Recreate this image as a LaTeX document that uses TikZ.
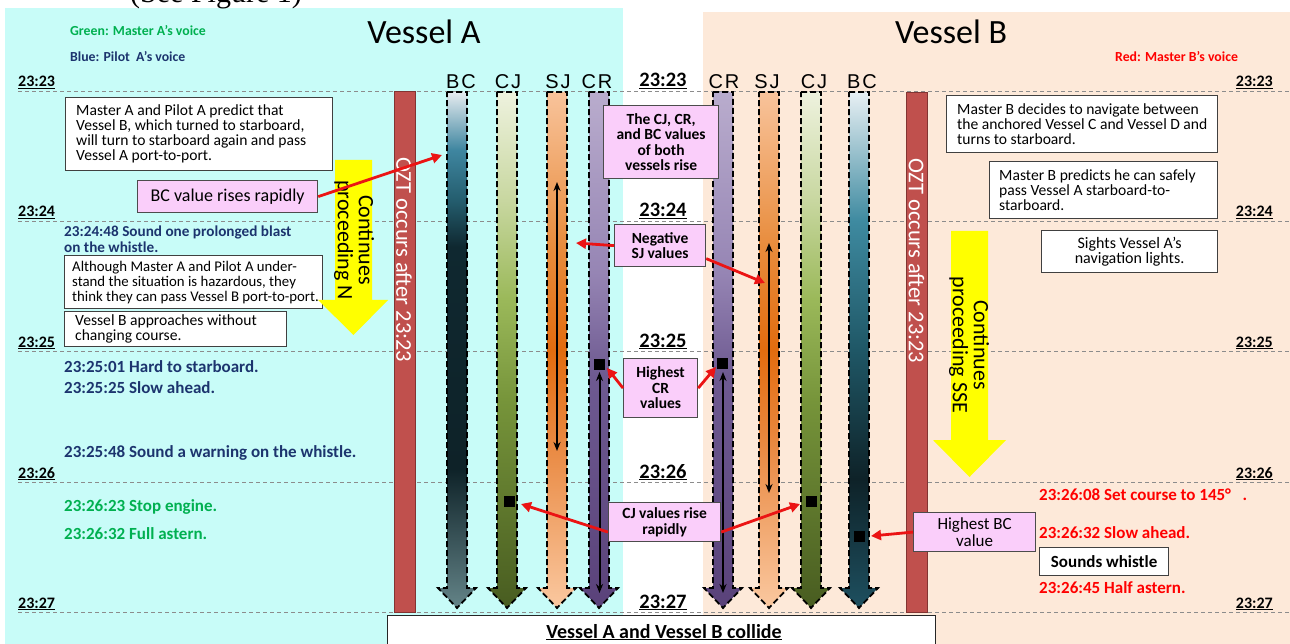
\documentclass[tikz,border=0pt]{standalone}
\usepackage{fontspec}
\setmainfont{Carlito}
\newfontfamily\arialf[LetterSpace=9]{Liberation Sans}
\newfontfamily\timesf{Liberation Serif}
\usetikzlibrary{arrows.meta,calc}

\definecolor{cyanbg}{RGB}{200,252,248}
\definecolor{peachbg}{RGB}{253,233,217}
\definecolor{pinkbox}{RGB}{250,206,250}
\definecolor{ozt}{RGB}{192,80,77}
\definecolor{oztb}{RGB}{130,52,50}
\definecolor{navyt}{RGB}{28,52,110}
\definecolor{greent}{RGB}{0,176,80}
\definecolor{redt}{RGB}{255,0,0}
\definecolor{redarrow}{RGB}{235,20,20}
\definecolor{gridg}{RGB}{140,140,140}
\definecolor{yel}{RGB}{255,255,0}

% BC A
\definecolor{bca1}{RGB}{230,236,240}
\definecolor{bca2}{RGB}{63,134,160}
\definecolor{bca3}{RGB}{36,93,110}
\definecolor{bca4}{RGB}{15,40,48}
\definecolor{bca5}{RGB}{14,34,40}
\definecolor{bca6}{RGB}{100,132,136}
% CJ
\definecolor{cja1}{RGB}{238,242,222}
\definecolor{cja2}{RGB}{200,215,160}
\definecolor{cja3}{RGB}{155,185,90}
\definecolor{cja4}{RGB}{118,148,58}
\definecolor{cja5}{RGB}{72,92,32}
% SJ
\definecolor{sja1}{RGB}{248,195,155}
\definecolor{sja2}{RGB}{232,140,60}
\definecolor{sja3}{RGB}{226,108,15}
\definecolor{sja4}{RGB}{234,140,70}
\definecolor{sja5}{RGB}{250,200,160}
% CR
\definecolor{cra1}{RGB}{185,172,205}
\definecolor{cra2}{RGB}{150,133,180}
\definecolor{cra3}{RGB}{110,90,145}
\definecolor{cra4}{RGB}{90,66,122}
% BC B
\definecolor{bcb1}{RGB}{232,240,244}
\definecolor{bcb2}{RGB}{62,138,160}
\definecolor{bcb3}{RGB}{31,87,102}
\definecolor{bcb4}{RGB}{14,34,40}
\definecolor{bcb5}{RGB}{30,80,96}

\pgfdeclareverticalshading{shBCA}{100bp}{color(0bp)=(bca6); color(25bp)=(bca6); color(38.5bp)=(bca5); color(60bp)=(bca4); color(64.5bp)=(bca3); color(69.4bp)=(bca2); color(75bp)=(bca1); color(100bp)=(bca1)}
\pgfdeclareverticalshading{shCJ}{100bp}{color(0bp)=(cja5); color(25bp)=(cja5); color(45bp)=(cja4); color(55bp)=(cja3); color(64.5bp)=(cja2); color(75bp)=(cja1); color(100bp)=(cja1)}
\pgfdeclareverticalshading{shSJ}{100bp}{color(0bp)=(sja5); color(25bp)=(sja5); color(40bp)=(sja4); color(50bp)=(sja3); color(60bp)=(sja2); color(75bp)=(sja1); color(100bp)=(sja1)}
\pgfdeclareverticalshading{shCR}{100bp}{color(0bp)=(cra4); color(25bp)=(cra4); color(47.5bp)=(cra3); color(57.5bp)=(cra2); color(75bp)=(cra1); color(100bp)=(cra1)}
\pgfdeclareverticalshading{shBCB}{100bp}{color(0bp)=(bcb5); color(25bp)=(bcb5); color(37.5bp)=(bcb4); color(50bp)=(bcb3); color(62.5bp)=(bcb2); color(75bp)=(bcb1); color(100bp)=(bcb1)}

\newcommand{\colarrow}[2]{%
  \begin{scope}[shift={(#1,0)}]
    \shadedraw[shading=#2, colborder] (-10,92) -- (10,92) -- (10,588) -- (19,588) -- (0,608) -- (-19,588) -- (-10,588) -- cycle;
  \end{scope}}

\begin{document}
\begin{tikzpicture}[x=1pt,y=-1pt,
  gridline/.style={draw=gridg, line width=0.9pt, dash pattern=on 4pt off 3pt},
  tside/.style={inner sep=0, font=\bfseries\fontsize{16}{16}\selectfont},
  tmid/.style={inner sep=0, font=\bfseries\fontsize{20.5}{20}\selectfont, anchor=base},
  titlef/.style={inner sep=0, anchor=base, font=\fontsize{34}{34}\selectfont},
  legf/.style={inner sep=0, anchor=base west, font=\bfseries\fontsize{13.8}{14}\selectfont},
  oztbar/.style={draw=oztb, fill=ozt, line width=0.8pt, inner sep=0, anchor=north west},
  ozttext/.style={text=white, inner sep=0, font=\fontsize{22.5}{22}\selectfont, rotate=-90, anchor=west},
  colborder/.style={draw=black, line width=1.8pt, dash pattern=on 6pt off 3pt},
  collab/.style={inner sep=0, anchor=base, font=\arialf\fontsize{20}{20}\selectfont},
  blk/.style={draw=black, line width=2pt, {Stealth[length=9pt,width=7pt]}-{Stealth[length=9pt,width=7pt]}},
  sq/.style={fill=black, minimum size=11pt, inner sep=0},
  wbox/.style={draw=black!75, fill=white, line width=1.2pt, inner sep=0, anchor=north west},
  btext/.style={inner sep=0, anchor=west, align=left, font=\fontsize{15.6}{15}\selectfont},
  pbox/.style={draw=black!70, fill=pinkbox, line width=1.2pt, inner sep=0, align=center, anchor=north west},
  pbold/.style={font=\bfseries\fontsize{15.5}{15.5}\selectfont},
  pnorm/.style={font=\fontsize{17}{16.5}\selectfont},
  navytx/.style={text=navyt, inner sep=0, anchor=base west, font=\bfseries\fontsize{17}{17}\selectfont},
  grntx/.style={text=greent, inner sep=0, anchor=base west, font=\bfseries\fontsize{17}{17}\selectfont},
  redtx/.style={text=redt, inner sep=0, anchor=base west, font=\bfseries\fontsize{17}{17}\selectfont},
  yelarrow/.style={fill=yel, draw=none},
  yeltx/.style={inner sep=0, align=center, rotate=-90, font=\fontsize{22}{21}\selectfont},
  redarr/.style={draw=redarrow, line width=2.8pt, -{Triangle[length=10pt,width=10pt]}}
]
\useasboundingbox (0,0) rectangle (1290,644);
\fill[white] (0,0) rectangle (1290,644);
\fill[cyanbg] (5,8) rectangle (623,644);
\fill[peachbg] (703,12) rectangle (1290,644);

\node[anchor=base west, inner sep=0, font=\timesf\fontsize{30}{30}\selectfont] (seefig) at (130,3) {(See Figure 1)};

% time grid
\foreach \y/\t [count=\i] in {91/23:23, 221/23:24, 351/23:25, 482/23:26, 612/23:27} {
  \draw[gridline] (18,\y) -- (1290,\y);
  \node[tside, anchor=base west] (tl\i) at (18,\y-4) {\underline{\t}};
  \node[tside, anchor=base east] (tr\i) at (1273,\y-4) {\underline{\t}};
  \node[tmid] (tm\i) at (663,\y-4) {\underline{\t}};
}

% titles and legends
\node[titlef] (titA) at (424,44) {Vessel A};
\node[titlef] (titB) at (951,44) {Vessel B};
\node[legf, text=greent] (legG) at (70,36) {Green: Master A’s voice};
\node[legf, text=navyt] (legBl) at (70,62) {Blue: Pilot\ \ A’s voice};
\node[legf, text=redt] (legR) at (1115,62) {Red: Master B’s voice};

% OZT bars
\node[oztbar, minimum width=21pt, minimum height=521pt] (oztA) at (393.5,91) {};
\node[ozttext] (oztAt) at (404,157) {OZT occurs after 23:23};
\node[oztbar, minimum width=21pt, minimum height=520pt] (oztB) at (906,92) {};
\node[ozttext] (oztBt) at (916.5,158) {OZT occurs after 23:23};

% columns A
\colarrow{457}{shBCA}
\colarrow{507}{shCJ}
\colarrow{557}{shSJ}
\colarrow{599}{shCR}
% columns B
\colarrow{723}{shCR}
\colarrow{769}{shSJ}
\colarrow{811}{shCJ}
\colarrow{859}{shBCB}

\node[collab] (lBCA) at (461,89) {BC};
\node[collab] (lCJA) at (508,89) {CJ};
\node[collab] (lSJA) at (558,89) {SJ};
\node[collab] (lCRA) at (597,89) {CR};
\node[collab] (lCRB) at (724,89) {CR};
\node[collab] (lSJB) at (767,89) {SJ};
\node[collab] (lCJB) at (814,89) {CJ};
\node[collab] (lBCB) at (862,89) {BC};

% black double arrows
\coordinate (sjAt) at (557,182);
\coordinate (sjAb) at (557,451);
\coordinate (sjBt) at (769,243);
\coordinate (sjBb) at (769,493);
\coordinate (crAt) at (599.5,372);
\coordinate (crAb) at (599.5,593);
\coordinate (crBt) at (723,372);
\coordinate (crBb) at (723,593);
\draw[blk] (sjAt) -- (sjAb);
\draw[blk] (sjBt) -- (sjBb);
\draw[blk] (crAt) -- (crAb);
\draw[blk] (crBt) -- (crBb);

% squares
\node[sq] (sqCRA) at (599.5,364) {};
\node[sq] (sqCRB) at (722.5,363.5) {};
\node[sq] (sqCJA) at (509,501) {};
\node[sq] (sqCJB) at (811.5,501) {};
\node[sq] (sqBCB) at (859.5,536.5) {};

% left white boxes
\node[wbox, minimum width=267pt, minimum height=73pt] (b1) at (65,97) {};
\node[btext] (b1t) at ([xshift=11pt]b1.west) {Master A and Pilot A predict that\\Vessel B, which turned to starboard,\\will turn to starboard again and pass\\Vessel A port-to-port.};

\node[navytx, font=\bfseries\fontsize{15.2}{15}\selectfont] (v1) at (64,237) {23:24:48 Sound one prolonged blast};
\node[navytx, font=\bfseries\fontsize{15.2}{15}\selectfont] (v2) at (64,253) {on the whistle.};

\node[wbox, minimum width=258pt, minimum height=53pt] (b2) at (64,255) {};
\node[btext, font=\fontsize{14.8}{15}\selectfont] (b2t) at ([xshift=8pt]b2.west) {Although Master A and Pilot A under-\\stand the situation is hazardous, they\\think they can pass Vessel B port-to-port.};

\node[wbox, minimum width=222pt, minimum height=35pt] (b3) at (64,311) {};
\node[btext] (b3t) at ([xshift=11pt]b3.west) {Vessel B approaches without\\changing course.};

\node[navytx] (v3) at (64,372) {23:25:01 Hard to starboard.};
\node[navytx] (v4) at (64,393) {23:25:25 Slow ahead.};
\node[navytx] (v5) at (64,457) {23:25:48 Sound a warning on the whistle.};
\node[grntx] (g1) at (64,511) {23:26:23 Stop engine.};
\node[grntx] (g2) at (64,539) {23:26:32 Full astern.};

% pink box left
\node[pbox, font=\fontsize{18}{18}\selectfont, minimum width=180pt, minimum height=32pt] (pbc) at (137,180) {BC value rises rapidly};

% right white boxes
\node[wbox, minimum width=271pt, minimum height=57pt] (r1) at (946,95) {};
\node[btext] (r1t) at ([xshift=11pt]r1.west) {Master B decides to navigate between\\the anchored Vessel C and Vessel D and\\turns to starboard.};
\node[wbox, minimum width=228pt, minimum height=57pt] (r2) at (989,161) {};
\node[btext] (r2t) at ([xshift=10pt]r2.west) {Master B predicts he can safely\\pass Vessel A starboard-to-\\starboard.};
\node[wbox, minimum width=176pt, minimum height=42pt, align=center, font=\fontsize{16}{15}\selectfont] (r3) at (1041,230) {Sights Vessel A’s\\navigation lights.};

% red texts
\node[redtx] (rd1) at (1039,500) {23:26:08 Set course to 145°\ \ \ .};
\node[redtx] (rd2) at (1039,538) {23:26:32 Slow ahead.};
\node[wbox, minimum width=129pt, minimum height=28pt, font=\bfseries\fontsize{17}{17}\selectfont] (sw) at (1039,547) {Sounds whistle};
\node[redtx] (rd3) at (1039,593) {23:26:45 Half astern.};

% middle pink boxes
\node[pbox, pbold, minimum width=115pt, minimum height=73pt] (pmid1) at (603,105) {The CJ, CR,\\and BC values\\of both\\vessels rise};
\node[pbox, pbold, minimum width=91pt, minimum height=42pt] (pneg) at (614,224) {Negative\\SJ values};
\node[pbox, pbold, minimum width=74pt, minimum height=59pt] (pcr) at (623,358) {Highest\\CR\\values};
\node[pbox, pbold, minimum width=112pt, minimum height=39pt] (pcj) at (608,502) {CJ values rise\\rapidly};
\node[pbox, pnorm, minimum width=122pt, minimum height=39pt] (pbcb) at (913,512) {Highest BC\\value};

% yellow arrows
\path[yelarrow] (335,160) -- (372,160) -- (372,300) -- (388,300) -- (353.5,335) -- (318,300) -- (335,300) -- cycle;
\node[yeltx] (yA) at (354,240) {Continues\\proceeding N};
\path[yelarrow] (951,231) -- (988,231) -- (988,440) -- (1006,440) -- (969.5,477) -- (933,440) -- (951,440) -- cycle;
\node[yeltx] (yB) at (969,345) {Continues\\proceeding SSE};

% red arrows
\coordinate (tBCA) at (442,155);
\coordinate (tSJA) at (576,243);
\coordinate (tSJB) at (765,283);
\coordinate (tCRA) at (607,368);
\coordinate (tCRB) at (716,367);
\coordinate (tCJA) at (521,504);
\coordinate (tCJB) at (800,504);
\coordinate (tBCB) at (871,536);
\draw[redarr] (pbc.east) -- (tBCA);
\draw[redarr] (pneg.west) -- (tSJA);
\draw[redarr] ([yshift=-13pt]pneg.east) -- (tSJB);
\draw[redarr] (pcr.west) -- (tCRA);
\draw[redarr] (pcr.east) -- (tCRB);
\draw[redarr] ([yshift=-10pt]pcj.west) -- (tCJA);
\draw[redarr] ([yshift=-10pt]pcj.east) -- (tCJB);
\draw[redarr] (pbcb.west) -- (tBCB);

% bottom box
\node[wbox, line width=1pt, draw=black!85, minimum width=548pt, minimum height=45pt] (collide) at (387,615) {};
\node[inner sep=0, anchor=base, font=\bfseries\fontsize{20}{20}\selectfont] (collidet) at (664,638) {\underline{Vessel A and Vessel B collide}};
\end{tikzpicture}
\end{document}
